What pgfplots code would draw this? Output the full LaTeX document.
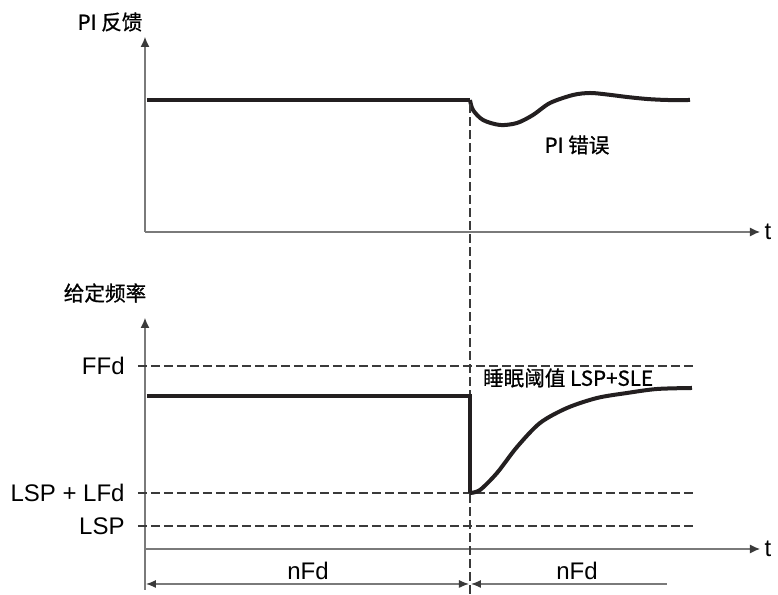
\documentclass[border=0pt]{standalone}
\usepackage{fontspec}
\setmainfont{Liberation Sans}
\newfontfamily\cjk{Noto Sans CJK SC}[FakeBold=0.8]
\usepackage{pgfplots}
\pgfplotsset{compat=1.18}
\usetikzlibrary{arrows.meta}

\definecolor{curve}{HTML}{231F20}
\definecolor{dashc}{HTML}{3A3A3A}
\definecolor{axline}{HTML}{7A7A7A}
\newcommand\lab{\fontsize{12}{14}\selectfont}
\newcommand\zh{\cjk\fontsize{10.3}{12}\selectfont}

% 1 data unit = 1 px of the reference = 0.5pt
\pgfplotsset{
  panel/.style={
    scale only axis, width=307.5pt,
    xmin=145, xmax=760, ymin=0,
    axis lines=left, enlargelimits=false, clip=false,
    xtick=\empty,
    axis line style={axline, line width=0.6pt, -{Latex[length=5pt,width=4.5pt,color=dashc]}},
  },
  sig/.style={curve, line width=2pt},
  ref/.style={dashc, line width=0.75pt, dash pattern=on 4.5pt off 2pt},
  dim/.style={axline, line width=0.6pt},
}

\begin{document}
\begin{tikzpicture}
% top panel: PI feedback
\begin{axis}[panel, at={(0,158.5pt)}, height=97.5pt, ymax=195, ytick=\empty]
\addplot[sig] coordinates {(147,132)(470,132)};
\addplot[sig, smooth] coordinates {
  (470,132)(473,122)(483,112)(500,107)(517,109)(533,117)(550,129)
  (573,137)(590,139)(607,137.5)(627,135)(647,133)(667,132)(690,132)
};
\node[font=\zh] at (axis cs:110,210) {PI 反馈};
\node[font=\zh] at (axis cs:577,87) {PI 错误};
\node[font=\lab] at (axis cs:768,0) {t};
\end{axis}

% bottom panel: reference frequency
\begin{axis}[panel, at={(0,0)}, height=115.5pt, ymax=231,
  ytick={23,56,183}, yticklabels={LSP, LSP + LFd, FFd},
  major tick length=0pt,
  yticklabel style={font=\lab, inner sep=0pt, xshift=-10pt}]
\path (axis cs:0,-45) rectangle (axis cs:778,549);
\addplot[ref] coordinates {(138,183)(693,183)};
\addplot[ref] coordinates {(138,56)(693,56)};
\addplot[ref] coordinates {(138,23)(693,23)};
\addplot[ref] coordinates {(470,-45)(470,449)};
\addplot[sig] coordinates {(147,153)(470,153)(470,56)};
\addplot[sig, smooth] coordinates {
  (470,56)(480,59)(497,76)(517,102)(540,126)(567,141)
  (597,151)(627,156)(657,160)(692,161)
};
\addplot[dim] coordinates {(145,0)(145,-41)};
\addplot[dim, {Latex[length=5pt,width=4pt,color=dashc]}-{Latex[length=5pt,width=4pt,color=dashc]}] coordinates {(146,-35)(469,-35)};
\addplot[dim, {Latex[length=5pt,width=4pt,color=dashc]}-] coordinates {(471,-35)(667,-35)};
\node[font=\zh] at (axis cs:105,256) {给定频率};
\node[font=\zh, anchor=west] at (axis cs:476,171) {睡眠阈值 LSP+SLE};
\node[font=\lab] at (axis cs:768,0) {t};
\node[font=\lab] at (axis cs:308,-22) {nFd};
\node[font=\lab] at (axis cs:577,-22) {nFd};
\end{axis}
\end{tikzpicture}
\end{document}
